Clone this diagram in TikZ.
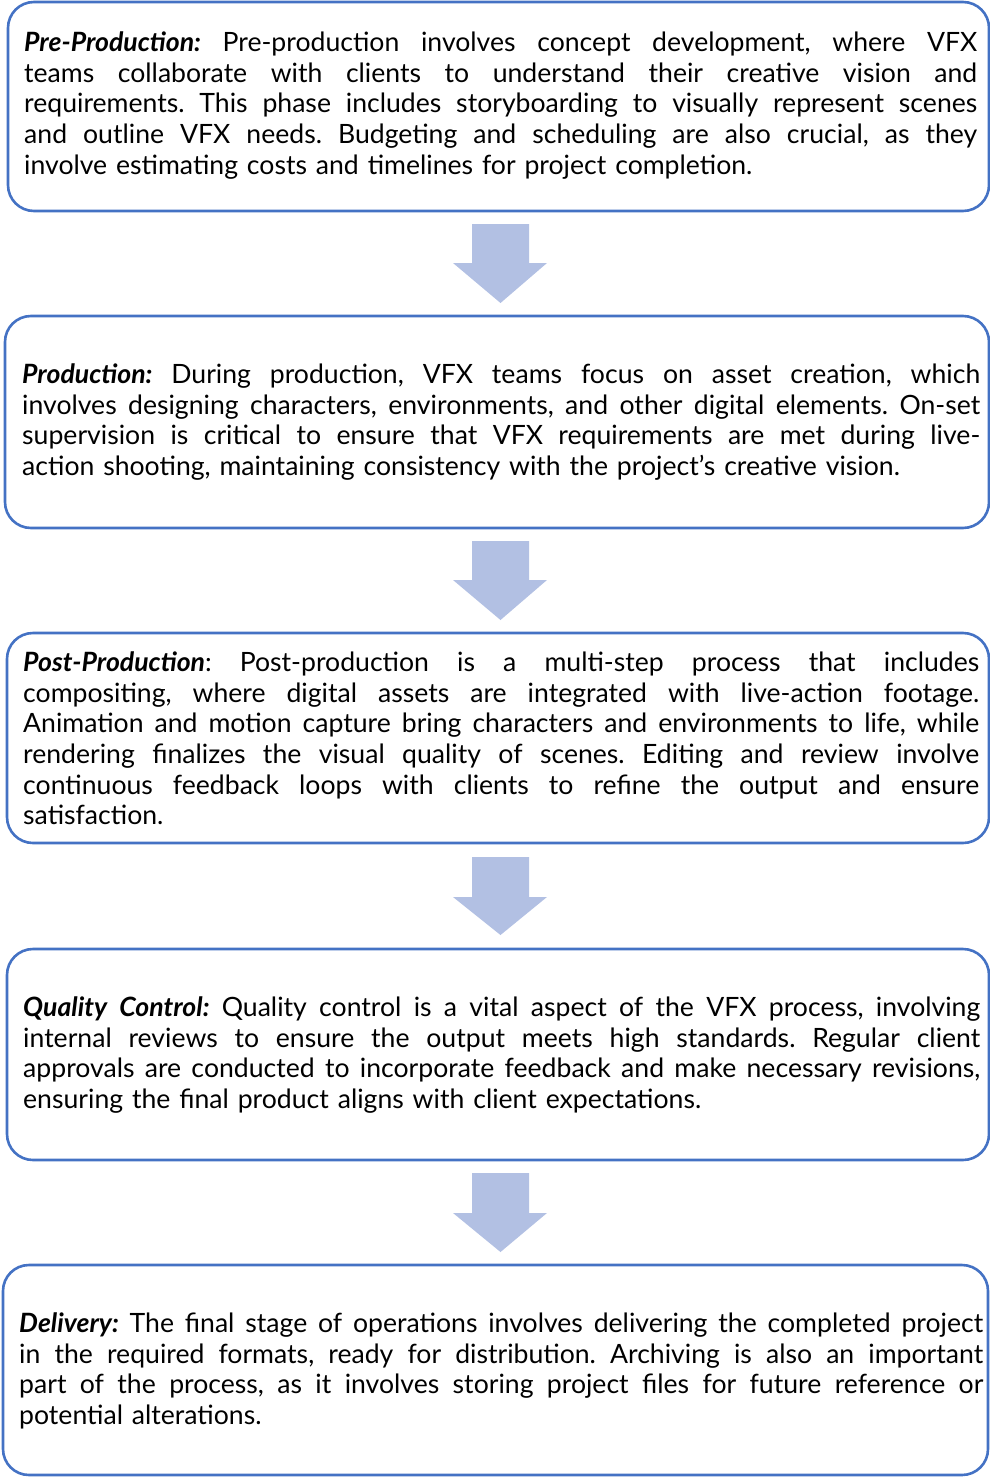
\documentclass[tikz,border=0pt]{standalone}
\usepackage{fontspec}
\setmainfont{Lato}
\frenchspacing
\definecolor{boxblue}{RGB}{68,114,196}
\definecolor{arrowblue}{RGB}{178,192,227}
\newlength{\tw}
\newcommand{\jl}[1]{{\spaceskip=\fontdimen2\font plus 1fil minus \fontdimen4\font\makebox[\tw][s]{#1}}}
\newcommand{\hd}[1]{\textbf{\textit{#1}}}
\begin{document}
\begin{tikzpicture}[x=1pt,y=-1pt,
  stage/.style={draw=boxblue, line width=2.6pt, rounded corners=26pt, fill=white, inner sep=0pt},
  body/.style={anchor=west, inner sep=0pt, align=left, font=\fontsize{26.6}{30.6}\selectfont},
  flow/.style={fill=arrowblue}]
\useasboundingbox (0,0) rectangle (990,1477);
% boxes
\node[stage, minimum width=981, minimum height=209] (b1) at (498.5,106.5) {};
\node[stage, minimum width=984, minimum height=212] (b2) at (497,422) {};
\node[stage, minimum width=982, minimum height=210] (b3) at (498,738) {};
\node[stage, minimum width=982, minimum height=211] (b4) at (498,1054.5) {};
\node[stage, minimum width=985, minimum height=210] (b5) at (495.5,1370) {};
% texts
\node[body, text width=953] (t1) at (24,105.5) {\setlength{\tw}{953pt}%
\jl{\hd{Pre-Production:} Pre-production involves concept development, where VFX}\\
\jl{teams collaborate with clients to understand their creative vision and}\\
\jl{requirements. This phase includes storyboarding to visually represent scenes}\\
\jl{and outline VFX needs. Budgeting and scheduling are also crucial, as they}\\
involve estimating costs and timelines for project completion.};
\node[body, text width=958] (t2) at (22,422) {\setlength{\tw}{958pt}%
\jl{\hd{Production:} During production, VFX teams focus on asset creation, which}\\
\jl{involves designing characters, environments, and other digital elements. On-set}\\
\jl{supervision is critical to ensure that VFX requirements are met during live-}\\
action shooting, maintaining consistency with the project's creative vision.};
\node[body, text width=956] (t3) at (23,738.5) {\setlength{\tw}{956pt}%
\jl{\hd{Post-Production}: Post-production is a multi-step process that includes}\\
\jl{compositing, where digital assets are integrated with live-action footage.}\\
\jl{Animation and motion capture bring characters and environments to life, while}\\
\jl{rendering finalizes the visual quality of scenes. Editing and review involve}\\
\jl{continuous feedback loops with clients to refine the output and ensure}\\
satisfaction.};
\node[body, text width=957] (t4) at (23,1055) {\setlength{\tw}{957pt}%
\jl{\hd{Quality Control:} Quality control is a vital aspect of the VFX process, involving}\\
\jl{internal reviews to ensure the output meets high standards. Regular client}\\
\jl{approvals are conducted to incorporate feedback and make necessary revisions,}\\
ensuring the final product aligns with client expectations.};
\node[body, text width=964] (t5) at (19,1371) {\setlength{\tw}{964pt}%
\jl{\hd{Delivery:} The final stage of operations involves delivering the completed project}\\
\jl{in the required formats, ready for distribution. Archiving is also an important}\\
\jl{part of the process, as it involves storing project files for future reference or}\\
potential alterations.};
% block arrows
\fill[flow] (472,224) -- (529,224) -- (529,263) -- (547,263) -- (500.5,303) -- (453,263) -- (472,263) -- cycle;
\fill[flow] (472,541) -- (529,541) -- (529,580) -- (547,580) -- (500.5,620) -- (453,580) -- (472,580) -- cycle;
\fill[flow] (472,857) -- (529,857) -- (529,897) -- (547,897) -- (500.5,935) -- (453,897) -- (472,897) -- cycle;
\fill[flow] (472,1173) -- (529,1173) -- (529,1213) -- (547,1213) -- (500.5,1252) -- (453,1213) -- (472,1213) -- cycle;
\end{tikzpicture}
\end{document}
